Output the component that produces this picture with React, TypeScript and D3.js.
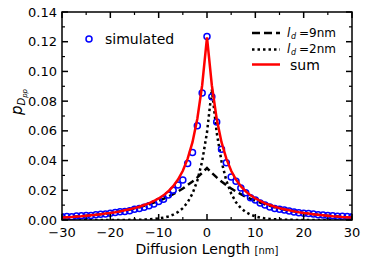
import React from "react";
import * as d3 from "d3";

const xsLine = d3.range(-30, 31);
const dashedVals = [
  0.0017, 0.0019, 0.0021, 0.0024, 0.0026, 0.0029, 0.0032, 0.0035, 0.0039, 0.0043, 0.0047,
  0.0052, 0.0058, 0.0064, 0.0071, 0.0078, 0.0086, 0.0096, 0.0105, 0.0117, 0.0129,
  0.0142, 0.0157, 0.0174, 0.0192, 0.0212, 0.0235, 0.0259, 0.0287, 0.0317, 0.035,
  0.0317, 0.0287, 0.0259, 0.0235, 0.0212, 0.0192, 0.0174, 0.0157, 0.0142, 0.0129,
  0.0117, 0.0105, 0.0096, 0.0086, 0.0078, 0.0071, 0.0064, 0.0058, 0.0052, 0.0047,
  0.0043, 0.0039, 0.0035, 0.0032, 0.0029, 0.0026, 0.0024, 0.0021, 0.0019, 0.0017,
];
const dottedVals = [
  0, 0, 0, 0, 0, 0, 0, 0, 0, 0, 0,
  0, 0, 0, 0.0001, 0.0001, 0.0002, 0.0003, 0.0005, 0.0007, 0.0011,
  0.0016, 0.0024, 0.0036, 0.0054, 0.008, 0.0119, 0.0178, 0.0265, 0.0395, 0.059, 0.088,
  0.059, 0.0395, 0.0265, 0.0178, 0.0119, 0.008, 0.0054, 0.0036, 0.0024, 0.0016,
  0.0011, 0.0007, 0.0005, 0.0003, 0.0002, 0.0001, 0.0001, 0, 0, 0,
  0, 0, 0, 0, 0, 0, 0, 0, 0, 0,
];
const sumVals = [
  0.0017, 0.0019, 0.0021, 0.0024, 0.0026, 0.0029, 0.0032, 0.0035, 0.0039, 0.0043, 0.0047,
  0.0052, 0.0058, 0.0065, 0.0072, 0.008, 0.0089, 0.0101, 0.0112, 0.0128, 0.0145,
  0.0166, 0.0193, 0.0228, 0.0272, 0.0331, 0.0413, 0.0524, 0.0682, 0.0907, 0.123,
  0.0907, 0.0682, 0.0524, 0.0413, 0.0331, 0.0272, 0.0228, 0.0193, 0.0166, 0.0145,
  0.0128, 0.0112, 0.0101, 0.0089, 0.008, 0.0072, 0.0065, 0.0058, 0.0052, 0.0047,
  0.0043, 0.0039, 0.0035, 0.0032, 0.0029, 0.0026, 0.0024, 0.0021, 0.0019, 0.0017,
];
const simVals = [
  0.0022, 0.0024, 0.0022, 0.0027, 0.0028, 0.003, 0.0031, 0.0036, 0.0038, 0.0041, 0.0045,
  0.005, 0.0055, 0.0058, 0.0063, 0.0072, 0.0078, 0.0085, 0.0096, 0.0108, 0.0125,
  0.014, 0.0168, 0.02, 0.0235, 0.027, 0.038, 0.0455, 0.0635, 0.0855, 0.1235,
  0.083, 0.066, 0.0476, 0.0385, 0.029, 0.026, 0.0215, 0.0184, 0.015, 0.0135,
  0.0115, 0.0101, 0.0088, 0.0078, 0.0072, 0.0067, 0.006, 0.0054, 0.0049, 0.0046,
  0.0043, 0.004, 0.0035, 0.0034, 0.003, 0.0028, 0.0026, 0.0025, 0.0023, 0.0022,
];
const xTicks = [-30, -20, -10, 0, 10, 20, 30];
const xMinor = [-25, -15, -5, 5, 15, 25];
const yTicks = [0, 0.02, 0.04, 0.06, 0.08, 0.1, 0.12, 0.14];
const yMinor = [0.01, 0.03, 0.05, 0.07, 0.09, 0.11, 0.13];
const legendLd = ["=9nm", "=2nm"];

const W = 371, H = 269;
const L = 62, R = 352, T = 12, B = 220;
const FONT = "DejaVu Sans, sans-serif";

export default function App() {
  const x = d3.scaleLinear().domain([-30, 30]).range([L, R]);
  const y = d3.scaleLinear().domain([0, 0.14]).range([B, T]);
  const line = (vals: number[]) =>
    d3.line<number>().x((_, i) => x(xsLine[i])).y((d) => y(d))(vals) as string;
  const fmtX = (v: number) => (v < 0 ? "\u2212" + Math.abs(v) : String(v));
  return (
    <svg width={W} height={H} style={{ position: "absolute", left: 0, top: 0, background: "#fff" }}>
      <defs>
        <clipPath id="clip">
          <rect x={L} y={T} width={R - L} height={B - T} />
        </clipPath>
      </defs>
      <g clipPath="url(#clip)">
        <path d={line(dashedVals)} fill="none" stroke="#000" strokeWidth={2.5} strokeDasharray="7,4" />
        <path d={line(dottedVals)} fill="none" stroke="#000" strokeWidth={2.5} strokeDasharray="2.5,3" />
        {simVals.map((v, i) => (
          <circle key={i} cx={x(xsLine[i])} cy={y(v)} r={3} fill="none" stroke="#0000ff" strokeWidth={1.5} />
        ))}
        <path d={line(sumVals)} fill="none" stroke="#ff0000" strokeWidth={2.5} />
      </g>
      {xTicks.map((t) => (
        <g key={"xt" + t}>
          <line x1={x(t)} x2={x(t)} y1={B} y2={B - 6} stroke="#000" strokeWidth={1.5} />
          <line x1={x(t)} x2={x(t)} y1={T} y2={T + 6} stroke="#000" strokeWidth={1.5} />
          <text x={x(t)} y={237} textAnchor="middle" fontFamily={FONT} fontSize={13}>{fmtX(t)}</text>
        </g>
      ))}
      {xMinor.map((t) => (
        <g key={"xm" + t}>
          <line x1={x(t)} x2={x(t)} y1={B} y2={B - 3} stroke="#000" strokeWidth={1.2} />
          <line x1={x(t)} x2={x(t)} y1={T} y2={T + 3} stroke="#000" strokeWidth={1.2} />
        </g>
      ))}
      {yTicks.map((t) => (
        <g key={"yt" + t}>
          <line x1={L} x2={L + 6} y1={y(t)} y2={y(t)} stroke="#000" strokeWidth={1.5} />
          <line x1={R} x2={R - 6} y1={y(t)} y2={y(t)} stroke="#000" strokeWidth={1.5} />
          <text x={57} y={y(t) + 4.5} textAnchor="end" fontFamily={FONT} fontSize={13}>{t.toFixed(2)}</text>
        </g>
      ))}
      {yMinor.map((t) => (
        <g key={"ym" + t}>
          <line x1={L} x2={L + 3} y1={y(t)} y2={y(t)} stroke="#000" strokeWidth={1.2} />
          <line x1={R} x2={R - 3} y1={y(t)} y2={y(t)} stroke="#000" strokeWidth={1.2} />
        </g>
      ))}
      <rect x={L} y={T} width={R - L} height={B - T} fill="none" stroke="#000" strokeWidth={1.5} />
      <text x={207} y={254} textAnchor="middle" fontFamily={FONT} fontSize={14}>
        Diffusion Length <tspan fontSize={10}>[nm]</tspan>
      </text>
      <text transform="translate(22,102) rotate(-90)" textAnchor="middle" fontFamily={FONT} fontSize={15}>
        <tspan fontStyle="italic">p</tspan>
        <tspan fontStyle="italic" fontSize={10} dy={3}>D</tspan>
        <tspan fontStyle="italic" fontSize={7} dy={2}>pp</tspan>
      </text>
      <circle cx={89} cy={39} r={3} fill="none" stroke="#0000ff" strokeWidth={1.5} />
      <text x={105} y={44} fontFamily={FONT} fontSize={14}>simulated</text>
      <line x1={252} x2={280} y1={33} y2={33} stroke="#000" strokeWidth={2.5} strokeDasharray="8,4" />
      <line x1={252} x2={280} y1={49.5} y2={49.5} stroke="#000" strokeWidth={2.5} strokeDasharray="2.5,3" />
      {legendLd.map((s, i) => (
        <g key={s}>
          <text x={287} y={37 + i * 16} fontFamily={FONT} fontSize={12} fontStyle="italic">l</text>
          <text x={291} y={39 + i * 16} fontFamily={FONT} fontSize={8} fontStyle="italic">d</text>
          <text x={299} y={37 + i * 16} fontFamily={FONT} fontSize={12}>{s}</text>
        </g>
      ))}
      <line x1={252} x2={280} y1={64.5} y2={64.5} stroke="#ff0000" strokeWidth={2.5} />
      <text x={290} y={70} fontFamily={FONT} fontSize={14}>sum</text>
    </svg>
  );
}
